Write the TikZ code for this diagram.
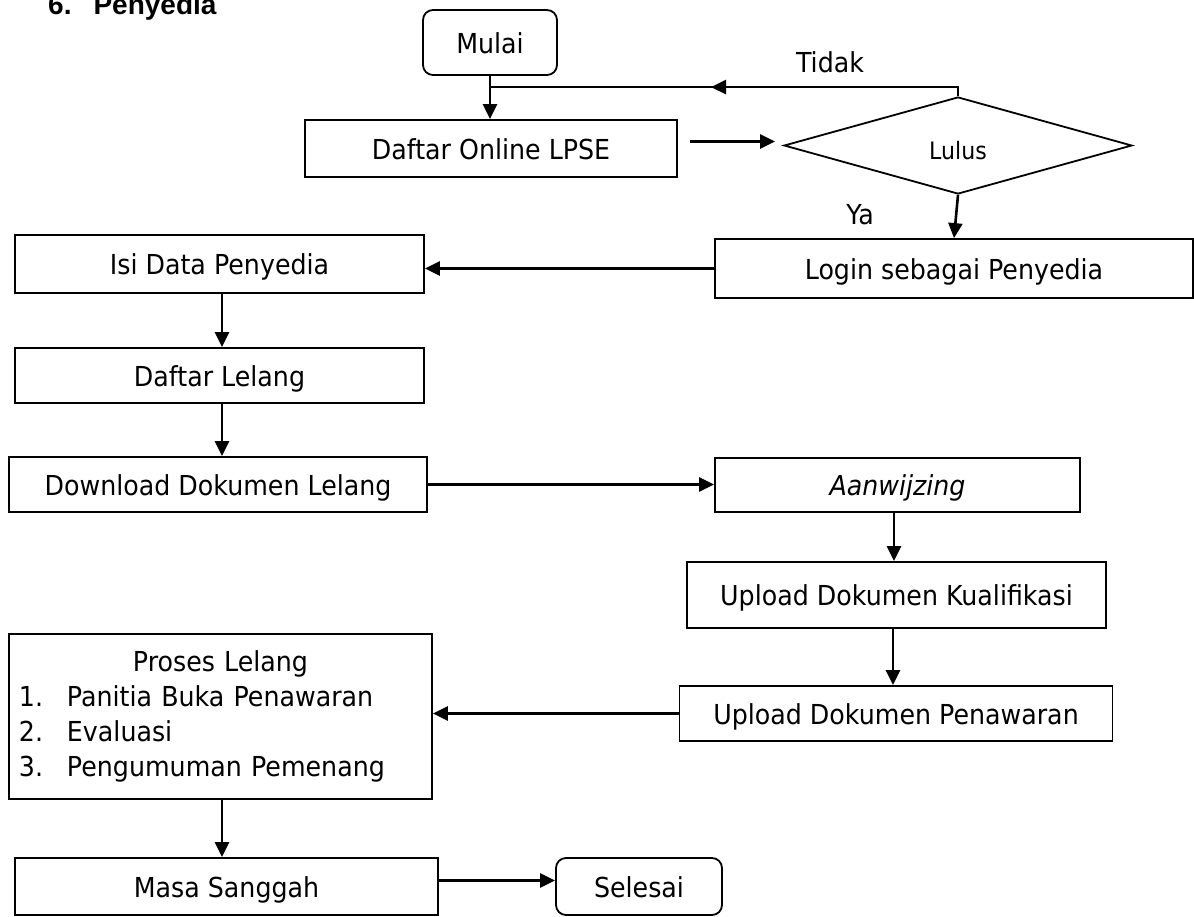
\documentclass[tikz,border=0pt]{standalone}
\usepackage{fontspec}
\setmainfont{DejaVu Sans}[FakeStretch=0.92]
\newfontfamily\titlefont{Liberation Sans}
\usetikzlibrary{arrows.meta,shapes.geometric,calc}
\begin{document}
\begin{tikzpicture}[x=1pt,y=-1pt,
  box/.style={draw,line width=1.8pt,inner sep=0pt,text height=25pt,text depth=4pt,font=\fontsize{27.5}{33}\selectfont},
  term/.style={box,rounded corners=10pt},
  decision/.style={draw,diamond,line width=1.8pt,inner sep=0pt,text height=28pt,text depth=1pt,font=\fontsize{24}{28}\selectfont},
  flow/.style={line width=2.6pt,-{Triangle[length=15pt,width=14pt]}},
  thinline/.style={line width=1.8pt},
  lbl/.style={inner sep=0pt,font=\fontsize{27.5}{33}\selectfont},
  ttl/.style={inner sep=0pt,anchor=base west,font=\titlefont\bfseries\fontsize{28}{33}\selectfont}
]
\useasboundingbox (0,0) rectangle (1194,916);

% title
\node[ttl] (title) at (48,14) {6.\hspace{22pt}Penyedia};

% nodes
\node[term, minimum width=134pt, minimum height=65pt] (mulai) at (490,42.5) {Mulai};
\node[box, minimum width=372pt, minimum height=57pt] (daftar) at (491,148.5) {Daftar Online LPSE};
\node[decision, minimum width=348pt, minimum height=97pt] (lulus) at (958,145.5) {Lulus};
\node[box, minimum width=478pt, minimum height=59pt] (login) at (954,268.5) {Login sebagai Penyedia};
\node[box, minimum width=409pt, minimum height=58pt] (isi) at (219.5,264) {Isi Data Penyedia};
\node[box, minimum width=409pt, minimum height=55pt] (dlelang) at (219.5,375.5) {Daftar Lelang};
\node[box, minimum width=418pt, minimum height=55pt] (download) at (218,484.5) {Download Dokumen Lelang};
\node[box, minimum width=365pt, minimum height=54pt] (aanw) at (897.5,485) {\itshape Aanwijzing};
\node[box, minimum width=419pt, minimum height=66pt] (kual) at (896.5,595) {Upload Dokumen Kualifikasi};
\node[box, minimum width=433pt, minimum height=55pt] (pen) at (896,713.5) {Upload Dokumen Penawaran};
\node[draw, line width=1.8pt, inner sep=0pt, minimum width=423pt, minimum height=165pt, text width=403pt, align=left,
      font=\fontsize{27.5}{35}\selectfont] (proses) at (220.5,716.5)
  {\makebox[403pt]{Proses Lelang}\\
   \makebox[48pt][l]{1.}Panitia Buka Penawaran\\
   \makebox[48pt][l]{2.}Evaluasi\\
   \makebox[48pt][l]{3.}Pengumuman Pemenang};
\node[box, minimum width=423pt, minimum height=57pt] (masa) at (226.5,886.5) {Masa Sanggah};
\node[term, minimum width=166pt, minimum height=57pt] (selesai) at (639,886.5) {Selesai};

% labels
\node[lbl] (tidak) at (830,62) {Tidak};
\node[lbl] (ya) at (860,215) {Ya};

% connectors
\draw[flow] (mulai.south) -- (mulai.south |- daftar.north);
\coordinate (tturn) at ($(lulus.north)+(0,-9)$);
\draw[thinline] (lulus.north) -- (tturn) -- (tturn -| mulai.south);
\draw[flow] ($(tturn)+(-158,0)$) -- ($(tturn)+(-247,0)$);
\draw[flow] ([shift={(12,-7)}]daftar.east) -- ([shift={(-8,-4)}]lulus.west);
\draw[flow] (lulus.south) -- (login.north);
\draw[flow] (login.west) -- (login.west -| isi.east);
\draw[flow] ([xshift=2.5pt]isi.south) -- ([xshift=2.5pt]dlelang.north);
\draw[flow] ([xshift=2.5pt]dlelang.south) -- ([xshift=2.5pt]dlelang.south |- download.north);
\draw[flow] (download.east) -- (download.east -| aanw.west);
\draw[flow] ([xshift=-3.5pt]aanw.south) -- ([xshift=-3.5pt]aanw.south |- kual.north);
\draw[flow] ([xshift=-3.5pt]kual.south) -- ([xshift=-3.5pt]kual.south |- pen.north);
\draw[flow] (pen.west) -- (pen.west -| proses.east);
\draw[flow] ([xshift=1.5pt]proses.south) -- ([xshift=1.5pt]proses.south |- masa.north);
\draw[flow] ([yshift=6pt]masa.east) -- ([yshift=6pt]selesai.west);
\end{tikzpicture}
\end{document}
